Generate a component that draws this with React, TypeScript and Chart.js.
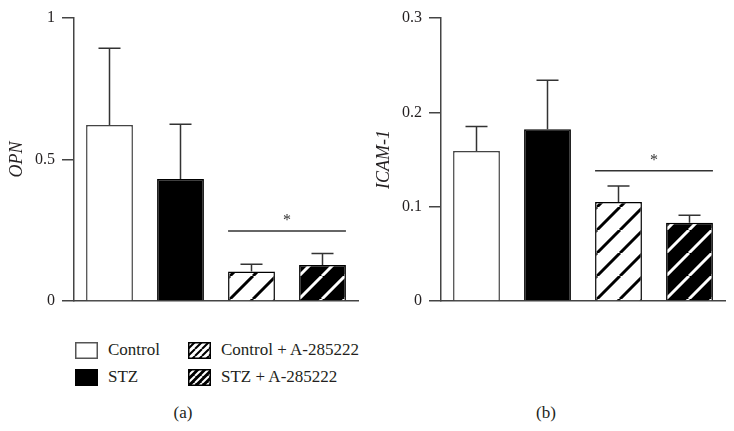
import React, { useEffect, useRef } from "react";
import { Chart, registerables } from "chart.js";
Chart.register(...registerables);

const GROUPS = ["Control", "STZ", "Control + A-285222", "STZ + A-285222"];

const OPN_MEAN = [0.622, 0.431, 0.104, 0.127];
const OPN_ERR = [0.271, 0.194, 0.026, 0.041];
const OPN_TICKS = [0, 0.5, 1];
const OPN_TICK_LABELS = ["0", "0.5", "1"];
const OPN_SIG = 0.247;

const ICAM_MEAN = [0.159, 0.182, 0.105, 0.083];
const ICAM_ERR = [0.026, 0.052, 0.017, 0.008];
const ICAM_TICKS = [0, 0.1, 0.2, 0.3];
const ICAM_TICK_LABELS = ["0", "0.1", "0.2", "0.3"];
const ICAM_SIG = 0.138;

const SIG_BARS = [2, 3];
const SIG_MARK = "*";

const FONT = "'Liberation Serif', 'DejaVu Serif', serif";
const TEXT = "#231f20";
const AXIS = "#444";

function makeHatch(bg: string, fg: string, period: number, lw: number) {
  const c = document.createElement("canvas");
  c.width = period;
  c.height = period;
  const g = c.getContext("2d")!;
  g.fillStyle = bg;
  g.fillRect(0, 0, period, period);
  g.strokeStyle = fg;
  g.lineWidth = lw;
  g.beginPath();
  for (const k of [-1, 0, 1]) {
    g.moveTo(k * period, period);
    g.lineTo(k * period + period, 0);
  }
  g.stroke();
  return g.createPattern(c, "repeat")!;
}

function BarPanel(props: {
  means: number[];
  errs: number[];
  ticks: number[];
  tickLabels: string[];
  sig: number;
  title: string;
  left: number;
}) {
  const ref = useRef<HTMLCanvasElement>(null);
  useEffect(() => {
    const canvas = ref.current!;
    const fills = [
      "#ffffff",
      "#000000",
      makeHatch("#ffffff", "#000000", 23, 3),
      makeHatch("#000000", "#ffffff", 23, 3),
    ];
    const borders = [AXIS, "#000", "#000", "#000"];
    const errPlugin = {
      id: "errs",
      afterDatasetsDraw(chart: any) {
        const ctx = chart.ctx;
        const meta = chart.getDatasetMeta(0);
        const y = chart.scales.y;
        ctx.save();
        ctx.strokeStyle = "#333";
        ctx.lineWidth = 1.5;
        meta.data.forEach((bar: any, i: number) => {
          const top = y.getPixelForValue(props.means[i] + props.errs[i]);
          const base = y.getPixelForValue(props.means[i]);
          ctx.beginPath();
          ctx.moveTo(bar.x, base);
          ctx.lineTo(bar.x, top);
          ctx.moveTo(bar.x - 11, top);
          ctx.lineTo(bar.x + 11, top);
          ctx.stroke();
        });
        const b0 = meta.data[SIG_BARS[0]];
        const b1 = meta.data[SIG_BARS[1]];
        const sy = y.getPixelForValue(props.sig);
        const x0 = b0.x - b0.width / 2;
        const x1 = b1.x + b1.width / 2;
        ctx.beginPath();
        ctx.moveTo(x0, sy);
        ctx.lineTo(x1, sy);
        ctx.stroke();
        ctx.fillStyle = "#333";
        ctx.font = `16px ${FONT}`;
        ctx.textAlign = "center";
        ctx.textBaseline = "middle";
        ctx.fillText(SIG_MARK, (x0 + x1) / 2, sy - 10);
        ctx.restore();
      },
    };
    const chart = new Chart(canvas, {
      type: "bar",
      data: {
        labels: GROUPS,
        datasets: [
          {
            data: props.means,
            backgroundColor: fills as any,
            borderColor: borders,
            borderWidth: 1.5,
            categoryPercentage: 1,
            barPercentage: 0.66,
          },
        ],
      },
      plugins: [errPlugin],
      options: {
        animation: false,
        responsive: false,
        layout: { padding: { top: 18, bottom: 17, left: 0, right: 9 } },
        plugins: { legend: { display: false }, tooltip: { enabled: false } },
        scales: {
          x: {
            ticks: { display: false },
            grid: { display: false },
            border: { display: true, color: AXIS, width: 1.5 },
            afterFit: (s: any) => {
              s.height = 0;
            },
          },
          y: {
            min: props.ticks[0],
            max: props.ticks[props.ticks.length - 1],
            afterBuildTicks: (s: any) => {
              s.ticks = props.ticks.map((v) => ({ value: v }));
            },
            afterFit: (s: any) => {
              s.width = 74;
            },
            ticks: {
              padding: 7,
              color: TEXT,
              font: { family: FONT, size: 16 },
              callback: (v: any) => {
                const i = props.ticks.indexOf(Number(v));
                return i >= 0 ? props.tickLabels[i] : "";
              },
            },
            grid: {
              drawOnChartArea: false,
              drawTicks: true,
              tickLength: 12,
              color: AXIS,
              lineWidth: 1.5,
            },
            border: { display: true, color: AXIS, width: 1.5 },
            title: {
              display: true,
              text: props.title,
              color: TEXT,
              font: { family: FONT, size: 18, style: "italic" },
              padding: { top: 6, bottom: 0 },
            },
          },
        },
      },
    });
    return () => chart.destroy();
  }, []);
  return (
    <canvas
      ref={ref}
      width={367}
      height={318}
      style={{ position: "absolute", left: props.left, top: 0 }}
    />
  );
}

function Swatch(props: { kind: number; left: number; top: number }) {
  const ref = useRef<HTMLCanvasElement>(null);
  useEffect(() => {
    const c = ref.current!;
    const g = c.getContext("2d")!;
    const w = 23, h = 17;
    g.clearRect(0, 0, w, h);
    let fill: any = "#fff";
    if (props.kind === 1) fill = "#000";
    if (props.kind === 2) fill = makeHatch("#fff", "#000", 7, 2);
    if (props.kind === 3) fill = makeHatch("#000", "#fff", 7, 2);
    g.fillStyle = fill;
    g.fillRect(1, 1, w - 2, h - 2);
    g.strokeStyle = props.kind === 0 ? "#555" : "#000";
    g.lineWidth = 1.5;
    g.strokeRect(0.75, 0.75, w - 1.5, h - 1.5);
  }, []);
  return (
    <canvas
      ref={ref}
      width={23}
      height={17}
      style={{ position: "absolute", left: props.left, top: props.top }}
    />
  );
}

const LEGEND_POS = [
  { box: [75, 342], text: [108, 350] },
  { box: [75, 369], text: [108, 377] },
  { box: [188, 342], text: [221, 350] },
  { box: [188, 369], text: [221, 377] },
];

export default function App() {
  const textStyle = (x: number, y: number): React.CSSProperties => ({
    position: "absolute",
    left: x,
    top: y - 10,
    height: 20,
    lineHeight: "20px",
    fontFamily: FONT,
    fontSize: 17,
    color: TEXT,
    whiteSpace: "nowrap",
  });
  return (
    <div
      style={{
        position: "fixed",
        left: 0,
        top: 0,
        width: 734,
        height: 431,
        background: "#fff",
        overflow: "hidden",
      }}
    >
      <BarPanel
        means={OPN_MEAN}
        errs={OPN_ERR}
        ticks={OPN_TICKS}
        tickLabels={OPN_TICK_LABELS}
        sig={OPN_SIG}
        title="OPN"
        left={0}
      />
      <BarPanel
        means={ICAM_MEAN}
        errs={ICAM_ERR}
        ticks={ICAM_TICKS}
        tickLabels={ICAM_TICK_LABELS}
        sig={ICAM_SIG}
        title="ICAM-1"
        left={367}
      />
      {GROUPS.map((g, i) => (
        <React.Fragment key={g}>
          <Swatch kind={i} left={LEGEND_POS[i].box[0]} top={LEGEND_POS[i].box[1]} />
          <div style={textStyle(LEGEND_POS[i].text[0], LEGEND_POS[i].text[1])}>{g}</div>
        </React.Fragment>
      ))}
      <div style={{ ...textStyle(0, 413), width: 366, left: 0, textAlign: "center" }}>(a)</div>
      <div style={{ ...textStyle(0, 413), width: 366, left: 363, textAlign: "center" }}>(b)</div>
    </div>
  );
}
